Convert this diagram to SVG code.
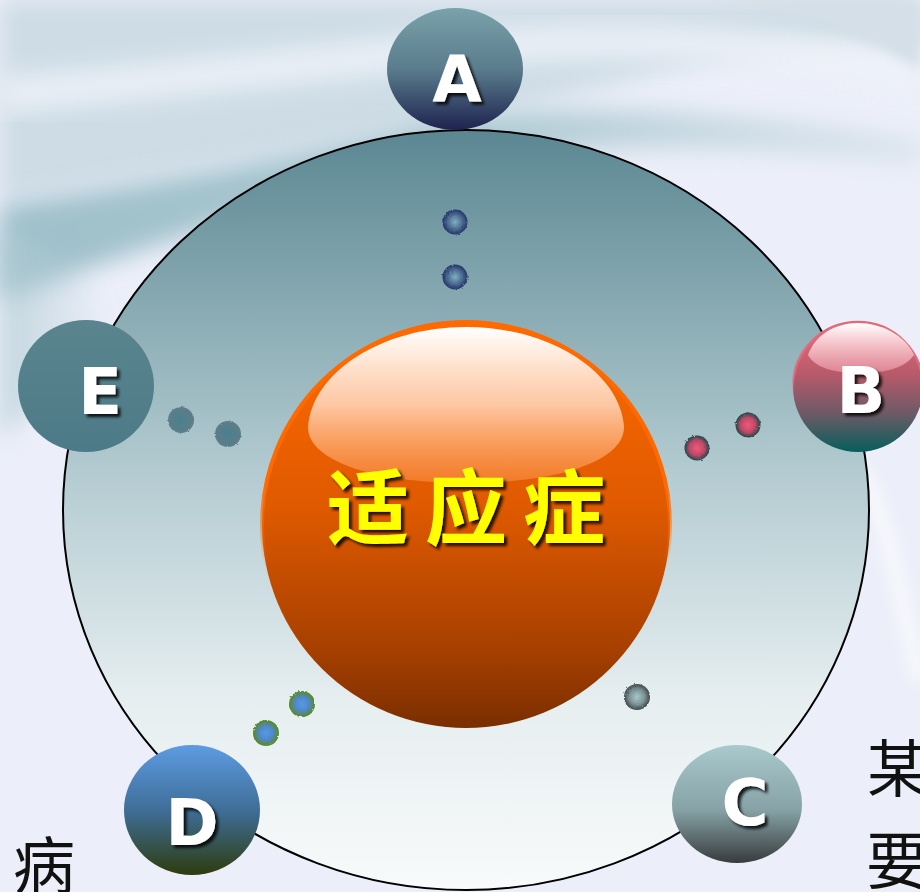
<svg xmlns="http://www.w3.org/2000/svg" width="920" height="892" viewBox="0 0 920 892">
<defs>
<style>
.lbl{font-family:"DejaVu Sans","Liberation Sans",sans-serif;font-weight:bold;font-size:64px;fill:#ffffff;text-anchor:middle;filter:url(#tshadow)}
.cjk{font-family:"Noto Sans CJK SC",sans-serif;font-size:62px;fill:#111111}
</style>
<filter id="blur12" x="-20%" y="-50%" width="140%" height="200%"><feGaussianBlur stdDeviation="12"/></filter>
<filter id="blur6" x="-20%" y="-50%" width="140%" height="200%"><feGaussianBlur stdDeviation="6"/></filter>
<filter id="tshadow" x="-30%" y="-30%" width="160%" height="160%">
<feGaussianBlur in="SourceAlpha" stdDeviation="1.5"/><feOffset dx="3" dy="3" result="o"/>
<feComponentTransfer in="o" result="s"><feFuncA type="linear" slope="0.85"/></feComponentTransfer>
<feMerge><feMergeNode in="s"/><feMergeNode in="SourceGraphic"/></feMerge>
</filter>
<filter id="rough" x="-30%" y="-30%" width="160%" height="160%">
<feTurbulence type="fractalNoise" baseFrequency="0.5" numOctaves="2" result="n"/>
<feDisplacementMap in="SourceGraphic" in2="n" scale="3"/>
</filter>
<linearGradient id="gBig" x1="0" y1="0" x2="0" y2="1">
<stop offset="0" stop-color="#5b8792"/><stop offset="0.45" stop-color="#b3cbd1"/><stop offset="0.75" stop-color="#e6eef0"/><stop offset="1" stop-color="#f8fafb"/>
</linearGradient>
<linearGradient id="gBall" x1="0" y1="0" x2="0" y2="1">
<stop offset="0" stop-color="#ff6a00"/><stop offset="0.45" stop-color="#e05a00"/><stop offset="0.8" stop-color="#a84000"/><stop offset="1" stop-color="#7a2e00"/>
</linearGradient>
<linearGradient id="gBallStroke" x1="0" y1="0" x2="0" y2="1">
<stop offset="0" stop-color="#ff6a00"/><stop offset="0.4" stop-color="#ff6a00"/><stop offset="0.6" stop-color="#ff6a00" stop-opacity="0"/>
</linearGradient>
<linearGradient id="gHi" x1="0" y1="0" x2="0" y2="1">
<stop offset="0" stop-color="#ffffff" stop-opacity="1"/><stop offset="0.5" stop-color="#ffd9bf" stop-opacity="0.85"/><stop offset="1" stop-color="#ff9a50" stop-opacity="0.5"/>
</linearGradient>
<linearGradient id="gA" x1="0" y1="0" x2="0" y2="1">
<stop offset="0" stop-color="#7aa2ab"/><stop offset="0.5" stop-color="#5a7c8c"/><stop offset="1" stop-color="#1e234f"/>
</linearGradient>
<linearGradient id="gB" x1="0" y1="0" x2="0" y2="1">
<stop offset="0" stop-color="#e86f80"/><stop offset="0.4" stop-color="#b75a6a"/><stop offset="0.7" stop-color="#6e5a66"/><stop offset="1" stop-color="#065e5c"/>
</linearGradient>
<linearGradient id="gBStroke" x1="0" y1="0" x2="0" y2="1">
<stop offset="0" stop-color="#e06a7a"/><stop offset="0.35" stop-color="#e06a7a"/><stop offset="0.55" stop-color="#e06a7a" stop-opacity="0"/>
</linearGradient>
<linearGradient id="gBhi" x1="0" y1="0" x2="0" y2="1">
<stop offset="0" stop-color="#ffffff"/><stop offset="1" stop-color="#f4a0ac" stop-opacity="0.6"/>
</linearGradient>
<linearGradient id="gC" x1="0" y1="0" x2="0" y2="1">
<stop offset="0" stop-color="#a9c9cd"/><stop offset="0.55" stop-color="#86a2a6"/><stop offset="1" stop-color="#383b3c"/>
</linearGradient>
<linearGradient id="gD" x1="0" y1="0" x2="0" y2="1">
<stop offset="0" stop-color="#5d9be2"/><stop offset="0.5" stop-color="#3f6e98"/><stop offset="1" stop-color="#2d3c0e"/>
</linearGradient>
<linearGradient id="gE" x1="0" y1="0" x2="0" y2="1">
<stop offset="0" stop-color="#5a858f"/><stop offset="1" stop-color="#4c7a86"/>
</linearGradient>
<radialGradient id="dA"><stop offset="0" stop-color="#7fb0c0"/><stop offset="0.6" stop-color="#4a6a90"/><stop offset="1" stop-color="#253468"/></radialGradient>
<radialGradient id="dB"><stop offset="0" stop-color="#ee5a78"/><stop offset="0.6" stop-color="#c04868"/><stop offset="1" stop-color="#1a4848"/></radialGradient>
<radialGradient id="dC"><stop offset="0" stop-color="#a8c8c8"/><stop offset="0.6" stop-color="#7a9296"/><stop offset="1" stop-color="#404848"/></radialGradient>
<radialGradient id="dD"><stop offset="0" stop-color="#5a98e8"/><stop offset="0.55" stop-color="#4f88c8"/><stop offset="1" stop-color="#5a8a1c"/></radialGradient>
<radialGradient id="dE"><stop offset="0" stop-color="#4a8090"/><stop offset="1" stop-color="#5d7d88"/></radialGradient>
<linearGradient id="gTeal" x1="0" y1="0" x2="1" y2="0">
<stop offset="0" stop-color="#9fc0ca"/><stop offset="0.5" stop-color="#a8c6cf"/><stop offset="1" stop-color="#c8d9e2" stop-opacity="0.5"/>
</linearGradient>
<linearGradient id="gLeft" x1="0" y1="0" x2="1" y2="0">
<stop offset="0" stop-color="#b0cbd3"/><stop offset="1" stop-color="#b0cbd3" stop-opacity="0"/>
</linearGradient>
</defs>

<g id="background">
<rect width="920" height="892" fill="#eceff9"/>
<path d="M0,0 H920 V50 C780,30 640,80 500,110 C360,140 180,170 0,200 Z" fill="#cddce5" filter="url(#blur12)"/>
<path d="M0,95 C160,82 320,62 470,48 C620,36 760,40 920,75" stroke="#eef2f9" stroke-width="36" fill="none" opacity="0.85" filter="url(#blur12)"/>
<path d="M0,205 C140,185 280,160 410,128 C540,100 700,105 920,140 L920,165 C720,140 560,145 420,165 C280,200 140,250 0,300 Z" fill="url(#gTeal)" filter="url(#blur12)"/>
<path d="M0,230 C50,240 90,270 110,320 C80,360 40,400 0,440 Z" fill="url(#gLeft)" opacity="0.7" filter="url(#blur12)"/>
<path d="M700,0 C780,10 860,30 920,70 L920,0 Z" fill="#d4dfe7" filter="url(#blur6)"/>
<path d="M860,470 C890,520 900,600 920,680" stroke="#f6f7fc" stroke-width="18" fill="none" filter="url(#blur6)"/>
</g>

<g id="outer-circle">
<ellipse cx="466" cy="510" rx="403" ry="380" fill="url(#gBig)" stroke="#000000" stroke-width="2"/>
</g>

<g id="connectors">
<g filter="url(#rough)">
<circle cx="455" cy="222" r="12.5" fill="url(#dA)"/>
<circle cx="455" cy="277" r="12.5" fill="url(#dA)"/>
<circle cx="697" cy="448" r="12.5" fill="url(#dB)"/>
<circle cx="748" cy="425" r="12.5" fill="url(#dB)"/>
<circle cx="637" cy="697" r="13" fill="url(#dC)"/>
<circle cx="302" cy="704" r="13" fill="url(#dD)"/>
<circle cx="266" cy="733" r="13" fill="url(#dD)"/>
<circle cx="181" cy="420" r="13" fill="url(#dE)"/>
<circle cx="228" cy="434" r="13" fill="url(#dE)"/>
</g>
</g>

<g id="center">
<ellipse cx="466" cy="525" rx="204" ry="203" fill="url(#gBall)" stroke="url(#gBallStroke)" stroke-width="4"/>
<path d="M308,427 C312,372 382,327 466,327 C550,327 620,372 624,427 C624,462 555,483 466,483 C377,483 308,462 308,427 Z" fill="url(#gHi)"/>
<text x="474" y="538" font-family="Noto Sans CJK SC, sans-serif" font-weight="bold" font-size="82" fill="#ffff00" text-anchor="middle" letter-spacing="16" filter="url(#tshadow)">适应症</text>
</g>

<g id="node-A">
<ellipse cx="455" cy="69" rx="68" ry="61" fill="url(#gA)"/>
<text class="lbl" x="457" y="102">A</text>
</g>

<g id="node-B">
<circle cx="858" cy="387" r="65" fill="url(#gB)" stroke="url(#gBStroke)" stroke-width="2.5"/>
<path d="M808,355 C815,335 835,323 858,323 C881,323 905,335 914,355 C905,368 885,373 860,373 C835,373 815,368 808,355 Z" fill="url(#gBhi)"/>
<text class="lbl" x="861" y="413">B</text>
</g>

<g id="node-C">
<ellipse cx="737" cy="804" rx="65" ry="59" fill="url(#gC)"/>
<text class="lbl" x="745" y="825">C</text>
</g>

<g id="node-D">
<ellipse cx="192" cy="810" rx="68" ry="65" fill="url(#gD)"/>
<text class="lbl" x="192" y="845">D</text>
</g>

<g id="node-E">
<ellipse cx="86" cy="386" rx="68" ry="66" fill="url(#gE)"/>
<text class="lbl" x="100" y="414">E</text>
</g>

<g id="side-text">
<text class="cjk" x="13" y="889">病</text>
<text class="cjk" x="867" y="792">某</text>
<text class="cjk" x="866" y="884">要</text>
</g>
</svg>
